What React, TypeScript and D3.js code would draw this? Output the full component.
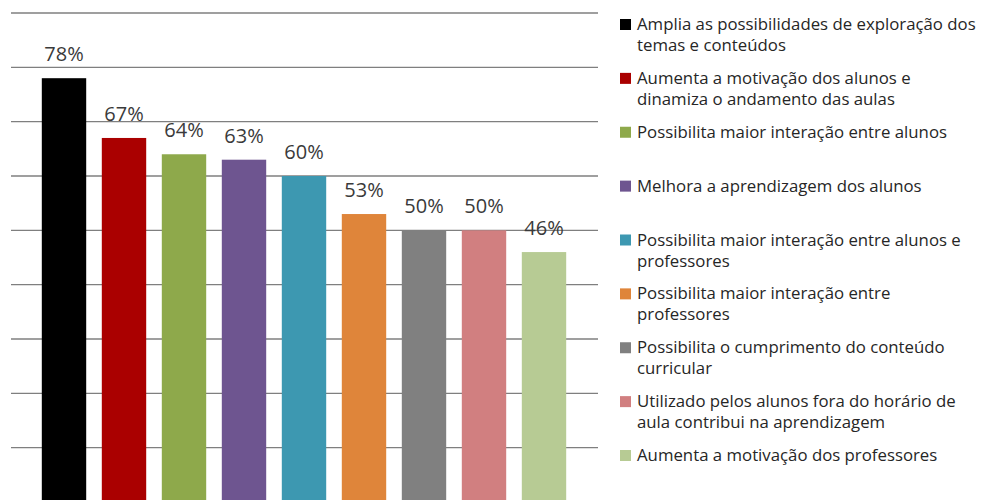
import React, { useRef, useEffect } from 'react';
import * as d3 from 'd3';

const categories = [
  'Amplia as possibilidades de exploração dos|temas e conteúdos',
  'Aumenta a motivação dos alunos e|dinamiza o andamento das aulas',
  'Possibilita maior interação entre alunos',
  'Melhora a aprendizagem dos alunos',
  'Possibilita maior interação entre alunos e|professores',
  'Possibilita maior interação entre|professores',
  'Possibilita o cumprimento do conteúdo|curricular',
  'Utilizado pelos alunos fora do horário de|aula contribui na aprendizagem',
  'Aumenta a motivação dos professores',
];

const values = [78, 67, 64, 63, 60, 53, 50, 50, 46];

const colors = [
  '#000000', '#aa0000', '#8ea94b', '#6e5590', '#3d98b1',
  '#df853a', '#808080', '#d17f80', '#b7cb94',
];

const gridTicks = [10, 20, 30, 40, 50, 60, 70, 80, 90];

const App = () => {
  const ref = useRef(null);

  useEffect(() => {
    const svg = d3.select(ref.current);
    svg.selectAll('*').remove();

    const width = 985;
    const height = 500;
    svg.attr('width', width).attr('height', height);

    const x = d3.scaleBand()
      .domain(d3.range(values.length).map(String))
      .range([34, 574])
      .paddingInner(0.26)
      .paddingOuter(0.13);

    const y = d3.scaleLinear().domain([0, 90]).range([502, 13]);

    // gridlines
    svg.append('g')
      .selectAll('line')
      .data(gridTicks)
      .enter()
      .append('line')
      .attr('x1', 11)
      .attr('x2', 598)
      .attr('y1', d => y(d))
      .attr('y2', d => y(d))
      .attr('stroke', '#7f7f7f')
      .attr('stroke-width', 1.4);

    // bars
    svg.append('g')
      .selectAll('rect')
      .data(values)
      .enter()
      .append('rect')
      .attr('x', (d, i) => x(String(i)))
      .attr('y', d => y(d))
      .attr('width', x.bandwidth())
      .attr('height', d => y(0) - y(d))
      .attr('fill', (d, i) => colors[i]);

    // value labels
    svg.append('g')
      .selectAll('text')
      .data(values)
      .enter()
      .append('text')
      .attr('x', (d, i) => x(String(i)) + x.bandwidth() / 2)
      .attr('y', d => y(d) - 17)
      .attr('text-anchor', 'middle')
      .attr('font-family', '"Open Sans", sans-serif')
      .attr('font-size', 20)
      .attr('fill', '#3a3a3a')
      .text(d => d + '%');

    // legend
    const ly = d3.scalePoint()
      .domain(d3.range(categories.length).map(String))
      .range([30, 461]);

    const legend = svg.append('g')
      .selectAll('g')
      .data(categories)
      .enter()
      .append('g')
      .attr('transform', (d, i) => `translate(620,${ly(String(i))})`);

    legend.append('rect')
      .attr('x', 0)
      .attr('y', -11)
      .attr('width', 11)
      .attr('height', 11)
      .attr('fill', (d, i) => colors[i]);

    const txt = legend.append('text')
      .attr('font-family', '"Open Sans", sans-serif')
      .attr('font-size', 16.8)
      .attr('fill', '#262626');

    txt.selectAll('tspan')
      .data(d => d.split('|'))
      .enter()
      .append('tspan')
      .attr('x', 17)
      .attr('dy', (d, i) => (i === 0 ? 0 : 21))
      .text(d => d);
  }, []);

  return (
    <div>
      <svg ref={ref} style={{ position: 'absolute', left: 0, top: 0, background: '#fff' }} />
    </div>
  );
};

export default App;
